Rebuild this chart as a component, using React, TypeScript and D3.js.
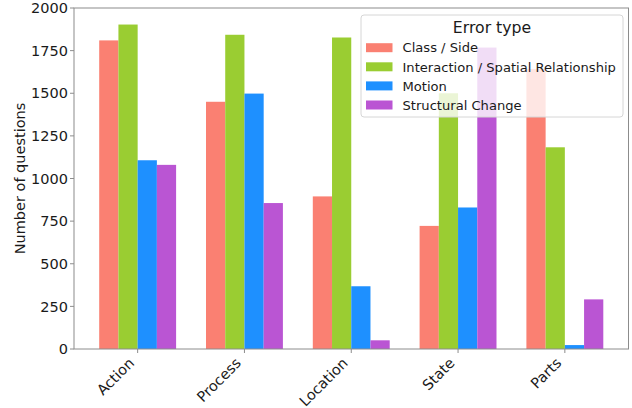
import { useEffect, useRef } from 'react'
import * as d3 from 'd3'

const categories = ['Action', 'Process', 'Location', 'State', 'Parts']
const seriesNames = ['Class / Side', 'Interaction / Spatial Relationship', 'Motion', 'Structural Change']
const classSide = [1810, 1450, 895, 722, 1642]
const interaction = [1903, 1843, 1827, 1500, 1183]
const motion = [1107, 1498, 368, 830, 23]
const structural = [1080, 856, 51, 1768, 291]
const colors = ['#FA8072', '#9ACD32', '#1E90FF', '#BA55D3']
const yTicks = [0, 250, 500, 750, 1000, 1250, 1500, 1750, 2000]

export default function App() {
  const svgRef = useRef<SVGSVGElement>(null)

  useEffect(() => {
    if (!svgRef.current) return
    const svg = d3.select(svgRef.current)
    svg.selectAll('*').remove()

    const font = 'DejaVu Sans, sans-serif'
    const left = 74, right = 628.5, top = 8, bottom = 349
    const series = [classSide, interaction, motion, structural]
    const barW = 0.18
    const offsets = [-0.27, -0.09, 0.09, 0.27]

    // matplotlib-like x limits with 5% margins
    const lo = -0.36, hi = categories.length - 1 + 0.36
    const pad = (hi - lo) * 0.05
    const x = d3.scaleLinear().domain([lo - pad, hi + pad]).range([left, right])
    const y = d3.scaleLinear().domain([0, 2000]).range([bottom, top])

    const g = svg.append('g')

    series.forEach((vals, si) => {
      g.selectAll(`.bar${si}`)
        .data(vals)
        .enter()
        .append('rect')
        .attr('x', (_, i) => x(i + offsets[si] - barW / 2))
        .attr('width', (_, i) => x(i + offsets[si] + barW / 2) - x(i + offsets[si] - barW / 2))
        .attr('y', d => y(d))
        .attr('height', d => y(0) - y(d))
        .attr('fill', colors[si])
    })

    // spines
    const spine = '#8c8c8c'
    g.append('rect')
      .attr('x', left).attr('y', top)
      .attr('width', right - left).attr('height', bottom - top)
      .attr('fill', 'none').attr('stroke', spine).attr('stroke-width', 1)

    // y ticks
    yTicks.forEach(t => {
      g.append('line')
        .attr('x1', left - 4).attr('x2', left)
        .attr('y1', y(t)).attr('y2', y(t))
        .attr('stroke', spine)
      g.append('text')
        .attr('x', left - 6).attr('y', y(t))
        .attr('dy', '0.36em')
        .attr('text-anchor', 'end')
        .attr('font-family', font).attr('font-size', 14.5)
        .attr('fill', '#1a1a1a')
        .text(t)
    })

    // x ticks
    categories.forEach((c, i) => {
      g.append('line')
        .attr('x1', x(i)).attr('x2', x(i))
        .attr('y1', bottom).attr('y2', bottom + 4)
        .attr('stroke', spine)
      const ax = x(i) - 2.5, ay = bottom + 15
      g.append('text')
        .attr('transform', `translate(${ax},${ay}) rotate(-45)`)
        .attr('text-anchor', 'end')
        .attr('font-family', font).attr('font-size', 14.5)
        .attr('fill', '#1a1a1a')
        .text(c)
    })

    // y label
    g.append('text')
      .attr('transform', `translate(24.5,${(top + bottom) / 2}) rotate(-90)`)
      .attr('text-anchor', 'middle')
      .attr('font-family', font).attr('font-size', 14.5)
      .attr('fill', '#1a1a1a')
      .text('Number of questions')

    // legend
    const lg = g.append('g')
    lg.append('rect')
      .attr('x', 361).attr('y', 15)
      .attr('width', 262).attr('height', 102)
      .attr('rx', 3)
      .attr('fill', 'white').attr('fill-opacity', 0.8)
      .attr('stroke', '#d6d6d6').attr('stroke-width', 1)
    lg.append('text')
      .attr('x', 492).attr('y', 32.5)
      .attr('text-anchor', 'middle')
      .attr('font-family', font).attr('font-size', 15.7)
      .attr('fill', '#1a1a1a')
      .text('Error type')
    seriesNames.forEach((name, i) => {
      const cy = 47.7 + i * 19.1
      lg.append('rect')
        .attr('x', 366).attr('y', cy - 4.5)
        .attr('width', 26.5).attr('height', 9)
        .attr('fill', colors[i])
      lg.append('text')
        .attr('x', 402.5).attr('y', cy)
        .attr('dy', '0.36em')
        .attr('font-family', font).attr('font-size', 13.1)
        .attr('fill', '#1a1a1a')
        .text(name)
    })
  }, [])

  return (
    <div style={{ position: 'fixed', left: 0, top: 0 }}>
      <svg ref={svgRef} width={632} height={408} style={{ display: 'block', background: 'white' }} />
    </div>
  )
}
